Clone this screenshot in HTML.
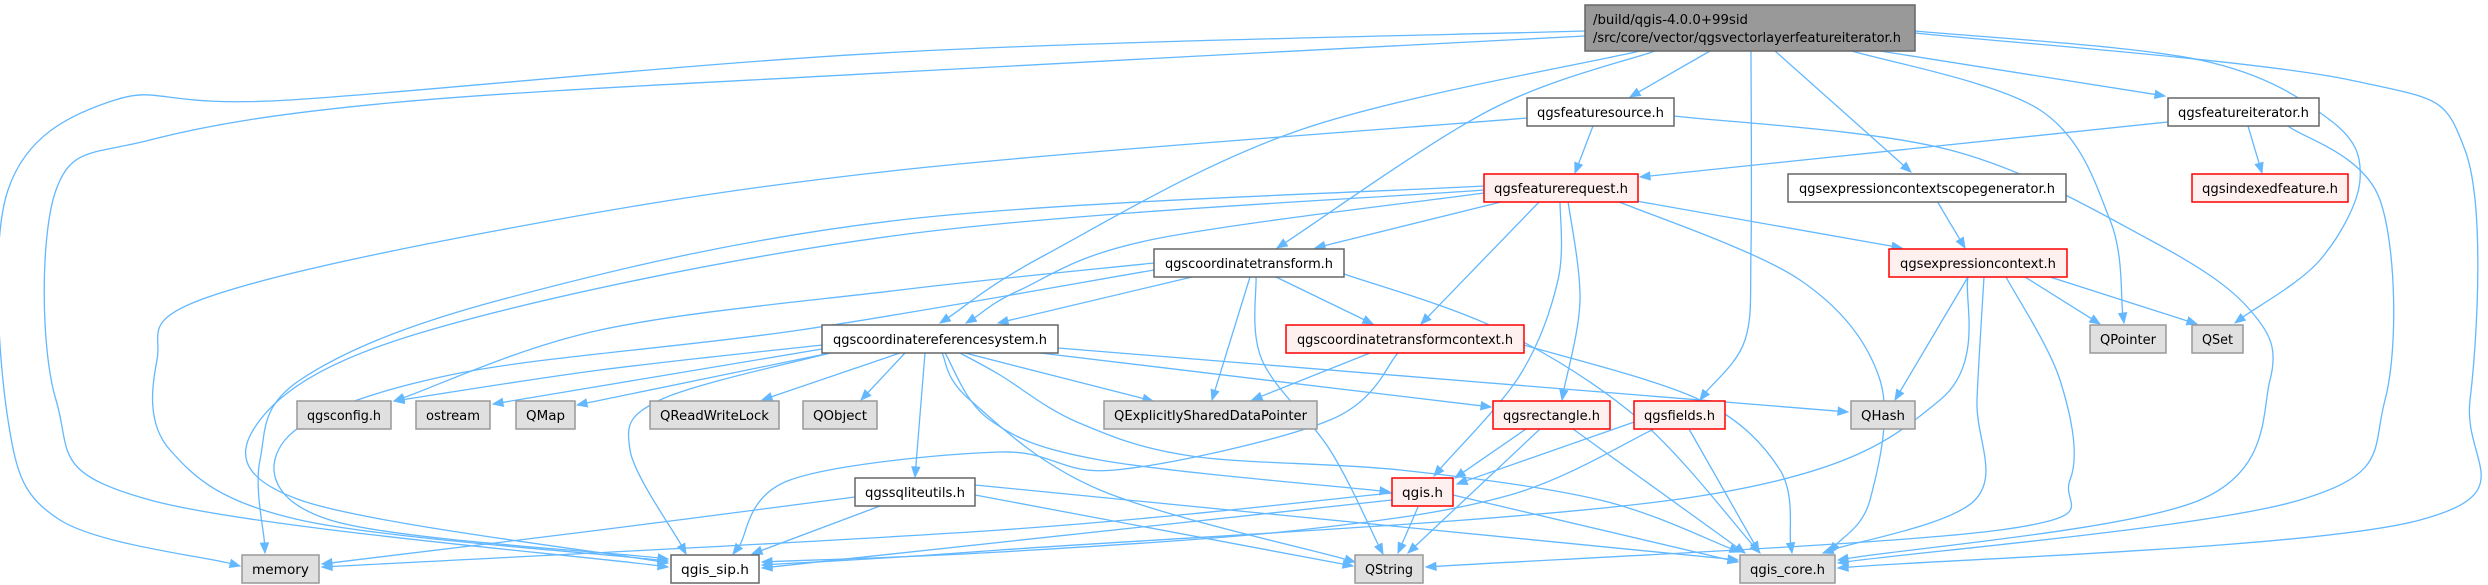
<!DOCTYPE html>
<html><head><meta charset="utf-8"><style>
html,body{margin:0;padding:0;background:#fff;}
svg{display:block;}
text{font-family:"DejaVu Sans","Liberation Sans",sans-serif;font-size:13px;fill:#000;}
</style></head><body>
<svg id="g" xmlns="http://www.w3.org/2000/svg" width="2488" height="585" viewBox="0 0 2488 585">
<g id="edges" fill="none" stroke="#63b8ff" stroke-width="1.3"></g>
<g id="heads" fill="#63b8ff" stroke="#63b8ff" stroke-width="1"></g>
<g id="nodes" stroke-width="1.5">
<rect x="1585" y="5" width="330" height="46" fill="#999" stroke="#666"/>
<text x="1593" y="24" textLength="155" lengthAdjust="spacingAndGlyphs">/build/qgis-4.0.0+99sid</text>
<text x="1593" y="42" textLength="308" lengthAdjust="spacingAndGlyphs">/src/core/vector/qgsvectorlayerfeatureiterator.h</text>

<rect x="1527" y="98" width="147" height="28" fill="#fff" stroke="#666"/>
<text x="1600.5" y="117" text-anchor="middle" textLength="127" lengthAdjust="spacingAndGlyphs">qgsfeaturesource.h</text>
<rect x="2168" y="98" width="151" height="28" fill="#fff" stroke="#666"/>
<text x="2243.5" y="117" text-anchor="middle" textLength="131" lengthAdjust="spacingAndGlyphs">qgsfeatureiterator.h</text>

<rect x="1484" y="174" width="154" height="28" fill="#fff0f0" stroke="#ff0000"/>
<text x="1561" y="193" text-anchor="middle" textLength="134" lengthAdjust="spacingAndGlyphs">qgsfeaturerequest.h</text>
<rect x="1788" y="174" width="278" height="28" fill="#fff" stroke="#666"/>
<text x="1927" y="193" text-anchor="middle" textLength="256" lengthAdjust="spacingAndGlyphs">qgsexpressioncontextscopegenerator.h</text>
<rect x="2192" y="174" width="156" height="28" fill="#fff0f0" stroke="#ff0000"/>
<text x="2270" y="193" text-anchor="middle" textLength="136" lengthAdjust="spacingAndGlyphs">qgsindexedfeature.h</text>

<rect x="1154" y="249" width="190" height="28" fill="#fff" stroke="#666"/>
<text x="1249" y="268" text-anchor="middle" textLength="168" lengthAdjust="spacingAndGlyphs">qgscoordinatetransform.h</text>
<rect x="1889" y="249" width="178" height="28" fill="#fff0f0" stroke="#ff0000"/>
<text x="1978" y="268" text-anchor="middle" textLength="156" lengthAdjust="spacingAndGlyphs">qgsexpressioncontext.h</text>

<rect x="822" y="325" width="236" height="28" fill="#fff" stroke="#666"/>
<text x="940" y="344" text-anchor="middle" textLength="214" lengthAdjust="spacingAndGlyphs">qgscoordinatereferencesystem.h</text>
<rect x="1286" y="325" width="238" height="28" fill="#fff0f0" stroke="#ff0000"/>
<text x="1405" y="344" text-anchor="middle" textLength="216" lengthAdjust="spacingAndGlyphs">qgscoordinatetransformcontext.h</text>
<rect x="2090" y="325" width="76" height="28" fill="#e0e0e0" stroke="#999"/>
<text x="2128" y="344" text-anchor="middle" textLength="56" lengthAdjust="spacingAndGlyphs">QPointer</text>
<rect x="2192" y="325" width="51" height="28" fill="#e0e0e0" stroke="#999"/>
<text x="2217.5" y="344" text-anchor="middle" textLength="31" lengthAdjust="spacingAndGlyphs">QSet</text>

<rect x="297" y="401" width="94" height="28" fill="#e0e0e0" stroke="#999"/>
<text x="344" y="420" text-anchor="middle" textLength="74" lengthAdjust="spacingAndGlyphs">qgsconfig.h</text>
<rect x="416" y="401" width="74" height="28" fill="#e0e0e0" stroke="#999"/>
<text x="453" y="420" text-anchor="middle" textLength="54" lengthAdjust="spacingAndGlyphs">ostream</text>
<rect x="516" y="401" width="59" height="28" fill="#e0e0e0" stroke="#999"/>
<text x="545.5" y="420" text-anchor="middle" textLength="39" lengthAdjust="spacingAndGlyphs">QMap</text>
<rect x="650" y="401" width="129" height="28" fill="#e0e0e0" stroke="#999"/>
<text x="714.5" y="420" text-anchor="middle" textLength="109" lengthAdjust="spacingAndGlyphs">QReadWriteLock</text>
<rect x="803" y="401" width="74" height="28" fill="#e0e0e0" stroke="#999"/>
<text x="840" y="420" text-anchor="middle" textLength="54" lengthAdjust="spacingAndGlyphs">QObject</text>
<rect x="1104" y="401" width="213" height="28" fill="#e0e0e0" stroke="#999"/>
<text x="1210.5" y="420" text-anchor="middle" textLength="193" lengthAdjust="spacingAndGlyphs">QExplicitlySharedDataPointer</text>
<rect x="1493" y="401" width="117" height="28" fill="#fff0f0" stroke="#ff0000"/>
<text x="1551.5" y="420" text-anchor="middle" textLength="97" lengthAdjust="spacingAndGlyphs">qgsrectangle.h</text>
<rect x="1634" y="401" width="91" height="28" fill="#fff0f0" stroke="#ff0000"/>
<text x="1679.5" y="420" text-anchor="middle" textLength="71" lengthAdjust="spacingAndGlyphs">qgsfields.h</text>
<rect x="1851" y="401" width="64" height="28" fill="#e0e0e0" stroke="#999"/>
<text x="1883" y="420" text-anchor="middle" textLength="44" lengthAdjust="spacingAndGlyphs">QHash</text>

<rect x="855" y="478" width="120" height="28" fill="#fff" stroke="#666"/>
<text x="915" y="497" text-anchor="middle" textLength="100" lengthAdjust="spacingAndGlyphs">qgssqliteutils.h</text>
<rect x="1392" y="478" width="61" height="28" fill="#fff0f0" stroke="#ff0000"/>
<text x="1422.5" y="497" text-anchor="middle" textLength="41" lengthAdjust="spacingAndGlyphs">qgis.h</text>

<rect x="242" y="555" width="77" height="28" fill="#e0e0e0" stroke="#999"/>
<text x="280.5" y="574" text-anchor="middle" textLength="57" lengthAdjust="spacingAndGlyphs">memory</text>
<rect x="671" y="555" width="88" height="28" fill="#fff" stroke="#666"/>
<text x="715" y="574" text-anchor="middle" textLength="68" lengthAdjust="spacingAndGlyphs">qgis_sip.h</text>
<rect x="1355" y="555" width="68" height="28" fill="#e0e0e0" stroke="#999"/>
<text x="1389" y="574" text-anchor="middle" textLength="48" lengthAdjust="spacingAndGlyphs">QString</text>
<rect x="1740" y="555" width="95" height="28" fill="#e0e0e0" stroke="#999"/>
<text x="1787.5" y="574" text-anchor="middle" textLength="75" lengthAdjust="spacingAndGlyphs">qgis_core.h</text>
</g>
</svg>
<script>
var E=[
// main
[[1585,31],[900,52],[290,100],[115,100],[8,190],[8,420],[60,520],[240,566]],
[[1585,36],[900,72],[400,102],[150,140],[56,190],[56,400],[150,500],[668,567]],
[[1640,51],[1300,130],[1045,255],[940,323]],
[[1655,51],[1490,110],[1277,248]],
[[1710,51],[1630,97]],
[[1751,51],[1751,250],[1745,340],[1700,400]],
[[1775,51],[1911,172]],
[[1852,51],[2040,110],[2110,220],[2124,323]],
[[1880,51],[2165,96]],
[[1915,31],[2200,60],[2330,120],[2360,180],[2320,260],[2235,323]],
[[1915,33],[2350,80],[2465,150],[2470,400],[2420,520],[1838,568]],
// featuresource
[[1593,126],[1575,173]],
[[1527,118],[900,170],[500,230],[200,300],[157,360],[170,450],[300,520],[668,561]],
[[1674,116],[1950,150],[2150,240],[2250,310],[2270,380],[2200,500],[1838,560]],
// featureiterator
[[2168,122],[1640,177]],
[[2248,126],[2262,173]],
[[2288,126],[2380,200],[2385,400],[2300,500],[1838,563]],
// featurerequest
[[1505,201],[1315,248]],
[[1484,193],[1150,240],[1020,290],[966,323]],
[[1540,201],[1421,324]],
[[1636,201],[1902,248]],
[[1617,201],[1800,280],[1880,380],[1870,500],[1830,553]],
[[1568,201],[1580,300],[1562,400]],
[[1560,201],[1558,280],[1520,375],[1434,476]],
[[1484,186],[900,220],[500,300],[300,380],[260,460],[265,553]],
[[1484,190],[900,235],[430,330],[260,420],[300,500],[668,563]],
// scope generator
[[1937,201],[1965,248]],
// coordinatetransform
[[1192,277],[998,323]],
[[1276,277],[1373,324]],
[[1250,277],[1212,400]],
[[1256,277],[1262,360],[1330,450],[1383,554]],
[[1344,274],[1500,330],[1640,420],[1760,553]],
[[1154,263],[900,290],[600,330],[394,401]],
[[1154,270],[800,330],[450,375],[285,440],[330,520],[668,559]],
// exprcontext
[[2025,277],[2100,324]],
[[2050,277],[2197,324]],
[[1968,277],[1895,400]],
[[1984,277],[1977,400],[1975,500],[1823,553]],
[[2006,277],[2060,380],[2070,480],[2000,530],[1426,567]],
[[1968,277],[1940,400],[1700,496],[1000,550],[762,565]],
// crs
[[822,345],[600,370],[394,401]],
[[822,349],[493,404]],
[[830,353],[577,405]],
[[900,353],[762,400]],
[[905,353],[861,400]],
[[965,353],[1153,401]],
[[1040,353],[1491,407]],
[[1058,348],[1848,412]],
[[925,353],[915,477]],
[[945,353],[990,420],[1100,460],[1390,492]],
[[960,353],[1000,375],[1077,422],[1191,456],[1400,470],[1600,500],[1740,552]],
[[942,353],[970,400],[1100,490],[1355,562]],
[[830,353],[660,400],[630,450],[686,554]],
// ctc
[[1398,353],[1330,420],[1115,470],[1000,452],[790,480],[733,554]],
[[1370,353],[1252,400]],
[[1524,345],[1700,400],[1780,470],[1792,553]],
// rect
[[1526,429],[1455,478]],
[[1540,429],[1408,553]],
[[1573,429],[1745,553]],
// fields
[[1640,420],[1457,484]],
[[1689,429],[1759,552]],
[[1654,429],[1510,495],[1300,530],[1000,552],[762,562]],
// sqlite
[[855,497],[600,530],[322,564]],
[[880,506],[752,554]],
[[975,495],[1353,566]],
[[975,485],[1738,560]],
// qgis.h
[[1392,493],[1000,530],[322,567]],
[[1392,500],[762,568]],
[[1418,507],[1398,553]],
[[1453,495],[1738,562]]
];
var NS="http://www.w3.org/2000/svg";
var ge=document.getElementById("edges"),gh=document.getElementById("heads");
E.forEach(function(p){
  p=p.map(function(a){return a.slice();});
  var n=p.length,t=p[n-1],q=p[n-2];
  var dx=t[0]-q[0],dy=t[1]-q[1],L=Math.sqrt(dx*dx+dy*dy)||1;dx/=L;dy/=L;
  var b=[t[0]-dx*10,t[1]-dy*10];
  p[n-1]=b;
  var d="M"+p[0][0]+","+p[0][1];
  if(n==2){d+="L"+b[0]+","+b[1];}
  else{
    for(var i=0;i<n-1;i++){
      var p0=p[i-1]||p[i],p1=p[i],p2=p[i+1],p3=p[i+2]||p[i+1];
      var c1=[p1[0]+(p2[0]-p0[0])/6,p1[1]+(p2[1]-p0[1])/6];
      var c2=[p2[0]-(p3[0]-p1[0])/6,p2[1]-(p3[1]-p1[1])/6];
      d+="C"+c1[0].toFixed(1)+","+c1[1].toFixed(1)+" "+c2[0].toFixed(1)+","+c2[1].toFixed(1)+" "+p2[0].toFixed(1)+","+p2[1].toFixed(1);
    }
  }
  var path=document.createElementNS(NS,"path");path.setAttribute("d",d);ge.appendChild(path);
  var px=-dy*4,py=dx*4;
  var poly=document.createElementNS(NS,"polygon");
  poly.setAttribute("points",t[0]+","+t[1]+" "+(b[0]+px)+","+(b[1]+py)+" "+(b[0]-px)+","+(b[1]-py));
  gh.appendChild(poly);
});
</script>
</body></html>
